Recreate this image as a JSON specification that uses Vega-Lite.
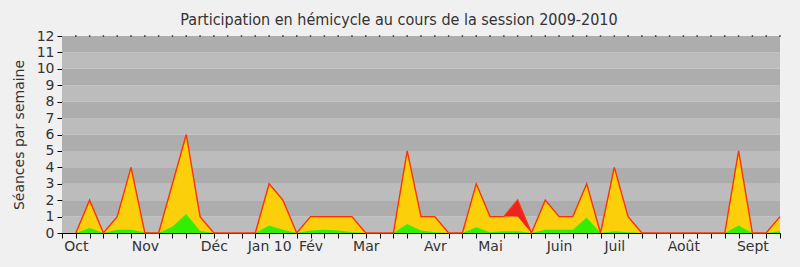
{
  "$schema": "https://vega.github.io/schema/vega-lite/v6.json",
  "autosize": "none",
  "width": 718,
  "height": 197,
  "padding": {"left": 62, "top": 36, "right": 20, "bottom": 34},
  "background": "#f0f0f0",
  "title": {
    "text": "Participation en hémicycle au cours de la session 2009-2010",
    "font": "DejaVu Sans Condensed",
    "fontSize": 16,
    "fontWeight": "normal",
    "color": "#333333",
    "anchor": "middle",
    "frame": "group",
    "dx": -22,
    "offset": 1
  },
  "config": {
    "view": {"stroke": null},
    "axis": {"labelFont": "DejaVu Sans", "titleFont": "DejaVu Sans", "labelColor": "#333333", "titleColor": "#333333", "grid": false, "tickColor": "#000000", "domainColor": "#000000", "labelFontSize": 14, "titleFontSize": 14, "titleFontWeight": "normal", "tickSize": 5},
    "axisX": {"labelPadding": 1, "labelOverlap": false, "labelBound": false, "labelFlush": false},
    "axisY": {"labelPadding": 3, "titlePadding": 10}
  },
  "datasets": {
    "bands": [
      {"lo": 0, "hi": 1, "shade": "clair"}, {"lo": 1, "hi": 2, "shade": "fonce"},
      {"lo": 2, "hi": 3, "shade": "clair"}, {"lo": 3, "hi": 4, "shade": "fonce"},
      {"lo": 4, "hi": 5, "shade": "clair"}, {"lo": 5, "hi": 6, "shade": "fonce"},
      {"lo": 6, "hi": 7, "shade": "clair"}, {"lo": 7, "hi": 8, "shade": "fonce"},
      {"lo": 8, "hi": 9, "shade": "clair"}, {"lo": 9, "hi": 10, "shade": "fonce"},
      {"lo": 10, "hi": 11, "shade": "clair"}, {"lo": 11, "hi": 12, "shade": "fonce"}
    ],
    "weeks": [
      {"semaine": 1, "total": 0, "presences": 0, "interventions": 0},
      {"semaine": 2, "total": 2, "presences": 2, "interventions": 0.3},
      {"semaine": 3, "total": 0, "presences": 0, "interventions": 0},
      {"semaine": 4, "total": 1, "presences": 1, "interventions": 0.2},
      {"semaine": 5, "total": 4, "presences": 4, "interventions": 0.2},
      {"semaine": 6, "total": 0, "presences": 0, "interventions": 0.05},
      {"semaine": 7, "total": 0, "presences": 0, "interventions": 0},
      {"semaine": 8, "total": 3, "presences": 3, "interventions": 0.4},
      {"semaine": 9, "total": 6, "presences": 6, "interventions": 1.15},
      {"semaine": 10, "total": 1, "presences": 1, "interventions": 0.12},
      {"semaine": 11, "total": 0, "presences": 0, "interventions": 0},
      {"semaine": 12, "total": 0, "presences": 0, "interventions": 0},
      {"semaine": 13, "total": 0, "presences": 0, "interventions": 0},
      {"semaine": 14, "total": 0, "presences": 0, "interventions": 0},
      {"semaine": 15, "total": 3, "presences": 3, "interventions": 0.45},
      {"semaine": 16, "total": 2, "presences": 2, "interventions": 0.2},
      {"semaine": 17, "total": 0, "presences": 0, "interventions": 0},
      {"semaine": 18, "total": 1, "presences": 1, "interventions": 0.15},
      {"semaine": 19, "total": 1, "presences": 1, "interventions": 0.2},
      {"semaine": 20, "total": 1, "presences": 1, "interventions": 0.15},
      {"semaine": 21, "total": 1, "presences": 1, "interventions": 0.05},
      {"semaine": 22, "total": 0, "presences": 0, "interventions": 0},
      {"semaine": 23, "total": 0, "presences": 0, "interventions": 0},
      {"semaine": 24, "total": 0, "presences": 0, "interventions": 0},
      {"semaine": 25, "total": 5, "presences": 5, "interventions": 0.55},
      {"semaine": 26, "total": 1, "presences": 1, "interventions": 0.15},
      {"semaine": 27, "total": 1, "presences": 1, "interventions": 0.05},
      {"semaine": 28, "total": 0, "presences": 0, "interventions": 0},
      {"semaine": 29, "total": 0, "presences": 0, "interventions": 0},
      {"semaine": 30, "total": 3, "presences": 3, "interventions": 0.35},
      {"semaine": 31, "total": 1, "presences": 1, "interventions": 0.05},
      {"semaine": 32, "total": 1, "presences": 1, "interventions": 0.1},
      {"semaine": 33, "total": 2, "presences": 1, "interventions": 0.1},
      {"semaine": 34, "total": 0, "presences": 0, "interventions": 0},
      {"semaine": 35, "total": 2, "presences": 2, "interventions": 0.2},
      {"semaine": 36, "total": 1, "presences": 1, "interventions": 0.2},
      {"semaine": 37, "total": 1, "presences": 1, "interventions": 0.2},
      {"semaine": 38, "total": 3, "presences": 3, "interventions": 0.95},
      {"semaine": 39, "total": 0, "presences": 0, "interventions": 0},
      {"semaine": 40, "total": 4, "presences": 4, "interventions": 0.1},
      {"semaine": 41, "total": 1, "presences": 1, "interventions": 0.05},
      {"semaine": 42, "total": 0, "presences": 0, "interventions": 0},
      {"semaine": 43, "total": 0, "presences": 0, "interventions": 0},
      {"semaine": 44, "total": 0, "presences": 0, "interventions": 0},
      {"semaine": 45, "total": 0, "presences": 0, "interventions": 0},
      {"semaine": 46, "total": 0, "presences": 0, "interventions": 0},
      {"semaine": 47, "total": 0, "presences": 0, "interventions": 0},
      {"semaine": 48, "total": 0, "presences": 0, "interventions": 0},
      {"semaine": 49, "total": 5, "presences": 5, "interventions": 0.45},
      {"semaine": 50, "total": 0, "presences": 0, "interventions": 0},
      {"semaine": 51, "total": 0, "presences": 0, "interventions": 0},
      {"semaine": 52, "total": 1, "presences": 1, "interventions": 0.1}
    ]
  },
  "layer": [
    {
      "data": {"name": "bands"},
      "mark": {"type": "rect", "stroke": null},
      "encoding": {
        "x": {"datum": 0, "type": "quantitative", "scale": {"domain": [0, 52], "nice": false, "zero": false},
          "axis": {
            "values": [0,1,2,3,4,5,6,7,8,9,10,11,12,13,14,15,16,17,18,19,20,21,22,23,24,25,26,27,28,29,30,31,32,33,34,35,36,37,38,39,40,41,42,43,44,45,46,47,48,49,50,51,52],
            "labelExpr": "datum.value == 1 ? 'Oct' : datum.value == 6 ? 'Nov' : datum.value == 11 ? 'Déc' : datum.value == 15 ? 'Jan 10' : datum.value == 18 ? 'Fév' : datum.value == 22 ? 'Mar' : datum.value == 27 ? 'Avr' : datum.value == 31 ? 'Mai' : datum.value == 36 ? 'Juin' : datum.value == 40 ? 'Juil' : datum.value == 45 ? 'Août' : datum.value == 50 ? 'Sept' : ''",
            "title": null
          }},
        "x2": {"datum": 52},
        "y": {"field": "lo", "type": "quantitative", "scale": {"domain": [0, 12], "nice": false},
          "axis": {"values": [0,1,2,3,4,5,6,7,8,9,10,11,12], "title": "Séances par semaine"}},
        "y2": {"field": "hi"},
        "color": {"field": "shade", "type": "nominal", "scale": {"domain": ["clair", "fonce"], "range": ["#bcbcbc", "#adadad"]}, "legend": null}
      }
    },
    {
      "data": {"name": "weeks"},
      "mark": {"type": "area", "color": "#ee2222", "interpolate": "linear"},
      "encoding": {
        "x": {"field": "semaine", "type": "quantitative",
          "axis": {
            "values": [0,1,2,3,4,5,6,7,8,9,10,11,12,13,14,15,16,17,18,19,20,21,22,23,24,25,26,27,28,29,30,31,32,33,34,35,36,37,38,39,40,41,42,43,44,45,46,47,48,49,50,51,52],
            "labelExpr": "datum.value == 1 ? 'Oct' : datum.value == 6 ? 'Nov' : datum.value == 11 ? 'Déc' : datum.value == 15 ? 'Jan 10' : datum.value == 18 ? 'Fév' : datum.value == 22 ? 'Mar' : datum.value == 27 ? 'Avr' : datum.value == 31 ? 'Mai' : datum.value == 36 ? 'Juin' : datum.value == 40 ? 'Juil' : datum.value == 45 ? 'Août' : datum.value == 50 ? 'Sept' : ''",
            "title": null
          }},
        "y": {"field": "total", "type": "quantitative",
          "axis": {"values": [0,1,2,3,4,5,6,7,8,9,10,11,12], "title": "Séances par semaine"}}
      }
    },
    {
      "data": {"name": "weeks"},
      "mark": {"type": "area", "color": "#fbd00b", "interpolate": "linear"},
      "encoding": {
        "x": {"field": "semaine", "type": "quantitative",
          "axis": {
            "values": [0,1,2,3,4,5,6,7,8,9,10,11,12,13,14,15,16,17,18,19,20,21,22,23,24,25,26,27,28,29,30,31,32,33,34,35,36,37,38,39,40,41,42,43,44,45,46,47,48,49,50,51,52],
            "labelExpr": "datum.value == 1 ? 'Oct' : datum.value == 6 ? 'Nov' : datum.value == 11 ? 'Déc' : datum.value == 15 ? 'Jan 10' : datum.value == 18 ? 'Fév' : datum.value == 22 ? 'Mar' : datum.value == 27 ? 'Avr' : datum.value == 31 ? 'Mai' : datum.value == 36 ? 'Juin' : datum.value == 40 ? 'Juil' : datum.value == 45 ? 'Août' : datum.value == 50 ? 'Sept' : ''",
            "title": null
          }},
        "y": {"field": "presences", "type": "quantitative",
          "axis": {"values": [0,1,2,3,4,5,6,7,8,9,10,11,12], "title": "Séances par semaine"}}
      }
    },
    {
      "data": {"name": "weeks"},
      "mark": {"type": "area", "color": "#33ee00", "interpolate": "linear"},
      "encoding": {
        "x": {"field": "semaine", "type": "quantitative",
          "axis": {
            "values": [0,1,2,3,4,5,6,7,8,9,10,11,12,13,14,15,16,17,18,19,20,21,22,23,24,25,26,27,28,29,30,31,32,33,34,35,36,37,38,39,40,41,42,43,44,45,46,47,48,49,50,51,52],
            "labelExpr": "datum.value == 1 ? 'Oct' : datum.value == 6 ? 'Nov' : datum.value == 11 ? 'Déc' : datum.value == 15 ? 'Jan 10' : datum.value == 18 ? 'Fév' : datum.value == 22 ? 'Mar' : datum.value == 27 ? 'Avr' : datum.value == 31 ? 'Mai' : datum.value == 36 ? 'Juin' : datum.value == 40 ? 'Juil' : datum.value == 45 ? 'Août' : datum.value == 50 ? 'Sept' : ''",
            "title": null
          }},
        "y": {"field": "interventions", "type": "quantitative",
          "axis": {"values": [0,1,2,3,4,5,6,7,8,9,10,11,12], "title": "Séances par semaine"}}
      }
    },
    {
      "data": {"name": "weeks"},
      "mark": {"type": "line", "color": "#ff3300", "strokeWidth": 1.4, "interpolate": "linear"},
      "encoding": {
        "x": {"field": "semaine", "type": "quantitative",
          "axis": {
            "values": [0,1,2,3,4,5,6,7,8,9,10,11,12,13,14,15,16,17,18,19,20,21,22,23,24,25,26,27,28,29,30,31,32,33,34,35,36,37,38,39,40,41,42,43,44,45,46,47,48,49,50,51,52],
            "labelExpr": "datum.value == 1 ? 'Oct' : datum.value == 6 ? 'Nov' : datum.value == 11 ? 'Déc' : datum.value == 15 ? 'Jan 10' : datum.value == 18 ? 'Fév' : datum.value == 22 ? 'Mar' : datum.value == 27 ? 'Avr' : datum.value == 31 ? 'Mai' : datum.value == 36 ? 'Juin' : datum.value == 40 ? 'Juil' : datum.value == 45 ? 'Août' : datum.value == 50 ? 'Sept' : ''",
            "title": null
          }},
        "y": {"field": "total", "type": "quantitative",
          "axis": {"values": [0,1,2,3,4,5,6,7,8,9,10,11,12], "title": "Séances par semaine"}}
      }
    },
    {
      "data": {"name": "weeks"},
      "mark": {"type": "square", "color": "#222222", "size": 2, "opacity": 1},
      "encoding": {
        "x": {"field": "semaine", "type": "quantitative",
          "axis": {
            "values": [0,1,2,3,4,5,6,7,8,9,10,11,12,13,14,15,16,17,18,19,20,21,22,23,24,25,26,27,28,29,30,31,32,33,34,35,36,37,38,39,40,41,42,43,44,45,46,47,48,49,50,51,52],
            "labelExpr": "datum.value == 1 ? 'Oct' : datum.value == 6 ? 'Nov' : datum.value == 11 ? 'Déc' : datum.value == 15 ? 'Jan 10' : datum.value == 18 ? 'Fév' : datum.value == 22 ? 'Mar' : datum.value == 27 ? 'Avr' : datum.value == 31 ? 'Mai' : datum.value == 36 ? 'Juin' : datum.value == 40 ? 'Juil' : datum.value == 45 ? 'Août' : datum.value == 50 ? 'Sept' : ''",
            "title": null
          }},
        "y": {"datum": 12, "type": "quantitative",
          "axis": {"values": [0,1,2,3,4,5,6,7,8,9,10,11,12], "title": "Séances par semaine"}}
      }
    }
  ]
}
